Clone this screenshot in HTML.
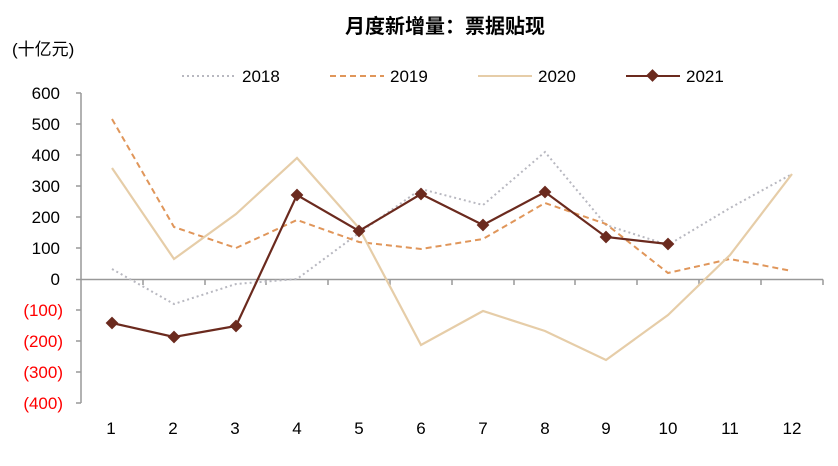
<!DOCTYPE html>
<html><head><meta charset="utf-8"><style>
body{margin:0;background:#fff;}
svg text{font-family:"Liberation Sans","Noto Sans CJK SC",sans-serif;}
</style></head><body>
<svg width="838" height="461" viewBox="0 0 838 461" xmlns="http://www.w3.org/2000/svg">
<text x="445" y="33" font-size="20" font-weight="bold" text-anchor="middle" fill="#000">月度新增量：票据贴现</text>
<text x="12" y="55" font-size="17" fill="#000">(十亿元)</text>
<g font-size="17">
<line x1="182" y1="76" x2="236" y2="76" stroke="#b8b8c0" stroke-width="2" stroke-dasharray="2,3"/>
<text x="242" y="82">2018</text>
<line x1="330" y1="76" x2="384" y2="76" stroke="#e0965a" stroke-width="2" stroke-dasharray="6,4"/>
<text x="390" y="82">2019</text>
<line x1="478" y1="76" x2="532" y2="76" stroke="#e6cda8" stroke-width="2"/>
<text x="538" y="82">2020</text>
<line x1="626" y1="76" x2="680" y2="76" stroke="#6b2a1e" stroke-width="2"/>
<rect x="648" y="71" width="9" height="9" fill="#6b2a1e" transform="rotate(45 652.5 75.5)"/>
<text x="686" y="82">2021</text>
</g>
<g font-size="17" text-anchor="end">
<text x="60" y="99">600</text><text x="60" y="130">500</text><text x="60" y="161">400</text>
<text x="60" y="192">300</text><text x="60" y="223">200</text><text x="60" y="254">100</text>
<text x="60" y="285">0</text>
<g fill="#ff0000"><text x="63" y="316">(100)</text><text x="63" y="347">(200)</text><text x="63" y="378">(300)</text><text x="63" y="409">(400)</text></g>
</g>
<g stroke="#999" stroke-width="1.5">
<line x1="81" y1="93" x2="81" y2="403"/>
<line x1="76" y1="93" x2="81" y2="93"/><line x1="76" y1="124" x2="81" y2="124"/><line x1="76" y1="155" x2="81" y2="155"/><line x1="76" y1="186" x2="81" y2="186"/><line x1="76" y1="217" x2="81" y2="217"/><line x1="76" y1="248" x2="81" y2="248"/><line x1="76" y1="279.5" x2="81" y2="279.5"/><line x1="76" y1="310" x2="81" y2="310"/><line x1="76" y1="341" x2="81" y2="341"/><line x1="76" y1="372" x2="81" y2="372"/><line x1="76" y1="403" x2="81" y2="403"/>
<line x1="81" y1="279.5" x2="823" y2="279.5"/>
<line x1="143" y1="279.5" x2="143" y2="285"/><line x1="205" y1="279.5" x2="205" y2="285"/><line x1="266" y1="279.5" x2="266" y2="285"/><line x1="328" y1="279.5" x2="328" y2="285"/><line x1="390" y1="279.5" x2="390" y2="285"/><line x1="452" y1="279.5" x2="452" y2="285"/><line x1="514" y1="279.5" x2="514" y2="285"/><line x1="575" y1="279.5" x2="575" y2="285"/><line x1="637" y1="279.5" x2="637" y2="285"/><line x1="699" y1="279.5" x2="699" y2="285"/><line x1="761" y1="279.5" x2="761" y2="285"/><line x1="823" y1="279.5" x2="823" y2="285"/>
</g>
<g font-size="17" text-anchor="middle">
<text x="111" y="434">1</text><text x="173" y="434">2</text><text x="235" y="434">3</text><text x="297" y="434">4</text><text x="359" y="434">5</text><text x="421" y="434">6</text><text x="483" y="434">7</text><text x="545" y="434">8</text><text x="606" y="434">9</text><text x="668" y="434">10</text><text x="730" y="434">11</text><text x="792" y="434">12</text>
</g>
<polyline fill="none" stroke="#b8b8c0" stroke-width="2" stroke-dasharray="2,3" points="112,269 174,304 236,284 297,279 359,233 421,189 483,205 545,152 606,225 668,245 730,208 792,174"/>
<polyline fill="none" stroke="#e0965a" stroke-width="2" stroke-dasharray="6,4" points="112,119 174,227 236,248 297,220 359,242 421,249 483,239 545,203 606,224 668,273 730,259 792,271"/>
<polyline fill="none" stroke="#e6cda8" stroke-width="2.2" points="112,168 174,259 236,214 297,158 359,228 421,345 483,311 545,331 606,360 668,315 730,255 792,174"/>
<polyline fill="none" stroke="#6b2a1e" stroke-width="2.2" points="112,323 174,337 236,326 297,195 359,231 421,194 483,225 545,192 606,237 668,244"/>
<g fill="#6b2a1e">
<rect x="107.5" y="318.5" width="9" height="9" transform="rotate(45 112 323)"/>
<rect x="169.5" y="332.5" width="9" height="9" transform="rotate(45 174 337)"/>
<rect x="231.5" y="321.5" width="9" height="9" transform="rotate(45 236 326)"/>
<rect x="292.5" y="190.5" width="9" height="9" transform="rotate(45 297 195)"/>
<rect x="354.5" y="226.5" width="9" height="9" transform="rotate(45 359 231)"/>
<rect x="416.5" y="189.5" width="9" height="9" transform="rotate(45 421 194)"/>
<rect x="478.5" y="220.5" width="9" height="9" transform="rotate(45 483 225)"/>
<rect x="540.5" y="187.5" width="9" height="9" transform="rotate(45 545 192)"/>
<rect x="601.5" y="232.5" width="9" height="9" transform="rotate(45 606 237)"/>
<rect x="663.5" y="239.5" width="9" height="9" transform="rotate(45 668 244)"/>
</g>
</svg>
</body></html>
